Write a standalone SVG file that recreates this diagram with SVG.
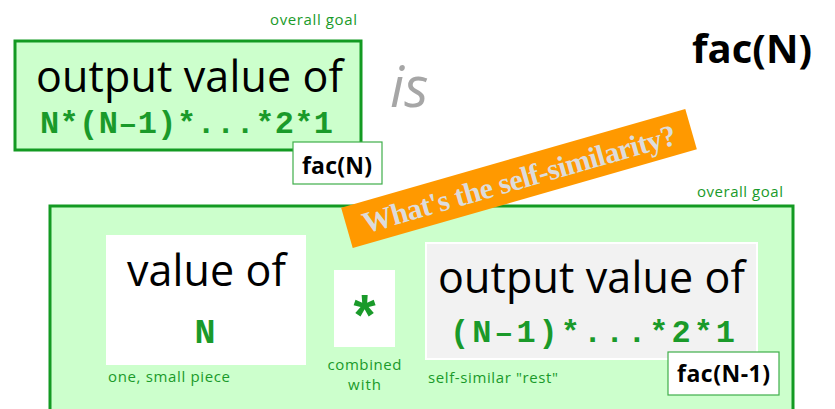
<svg xmlns="http://www.w3.org/2000/svg" width="835" height="409" viewBox="0 0 835 409">
  <style>
    .sans { font-family: "Open Sans", Lato, "Liberation Sans", sans-serif; }
    .mono { font-family: "Liberation Mono", "Courier New", monospace; font-weight: bold; fill: #1a9a2a; }
    .goal { fill: #ccffcc; stroke: #139a22; stroke-width: 3; }
    .note { font-size: 15px; fill: #1a9a2a; }
    .big { font-size: 43px; fill: #000; }
    .tag { fill: #fff; stroke: #3fae4a; stroke-width: 1.2; }
    .tagtext { font-size: 23px; font-weight: bold; fill: #000; }
  </style>

  <rect width="835" height="409" fill="#fff"/>

  <!-- top: overall goal -->
  <g id="goal-top">
    <text class="sans note" x="270" y="25" textLength="87">overall goal</text>
    <rect class="goal" x="15" y="41" width="346" height="109"/>
    <text class="sans big" x="36" y="92" textLength="307">output value of</text>
    <text class="mono" x="40" y="133" font-size="32" textLength="293">N*(N–1)*...*2*1</text>
  </g>
  <g id="tag-facN">
    <rect class="tag" x="293" y="142" width="89" height="42"/>
    <text class="sans tagtext" x="302" y="174" textLength="70">fac(N)</text>
  </g>

  <text class="sans" x="390" y="107" font-size="56" font-style="italic" fill="#a6a6a6">is</text>

  <text class="sans" x="692" y="63" font-size="40" font-weight="bold" fill="#000" textLength="120">fac(N)</text>

  <!-- bottom: decomposition -->
  <g id="goal-bottom">
    <text class="sans note" x="697" y="197" textLength="86">overall goal</text>
    <rect class="goal" x="50" y="206" width="743" height="220"/>
  </g>

  <g id="piece">
    <rect x="106" y="235" width="200" height="130" fill="#fff"/>
    <text class="sans big" x="127" y="286" textLength="159">value of</text>
    <text class="mono" x="205" y="343" font-size="35" text-anchor="middle">N</text>
    <text class="sans note" x="108" y="382" textLength="122">one, small piece</text>
  </g>

  <g id="combine">
    <rect x="334" y="270" width="61" height="77" fill="#fff"/>
    <text class="mono" x="364.5" y="337" font-size="57" text-anchor="middle">*</text>
    <text class="sans note" x="364.5" y="370" text-anchor="middle" textLength="74">combined</text>
    <text class="sans note" x="364.5" y="390" text-anchor="middle" textLength="33">with</text>
  </g>

  <g id="rest">
    <rect x="426" y="243" width="331" height="116" fill="#f2f2f2" stroke="#fff" stroke-width="2"/>
    <text class="sans big" x="438" y="293" textLength="307">output value of</text>
    <text class="mono" x="450" y="342" font-size="32" textLength="285">(N–1)*...*2*1</text>
    <text class="sans note" x="428" y="383" textLength="130">self-similar "rest"</text>
  </g>
  <g id="tag-facN1">
    <rect class="tag" x="668" y="352" width="111" height="43"/>
    <text class="sans tagtext" x="677" y="382" textLength="93">fac(N-1)</text>
  </g>

  <!-- rotated banner -->
  <g id="banner" transform="rotate(-16 519 178.5)">
    <rect x="340" y="157.5" width="358" height="42" fill="#ff9900"/>
    <text x="519" y="189" text-anchor="middle" font-family="'Liberation Serif', 'DejaVu Serif', serif" font-weight="bold" font-size="30" fill="#dcdcdc" textLength="325">What's the self-similarity?</text>
  </g>
</svg>
